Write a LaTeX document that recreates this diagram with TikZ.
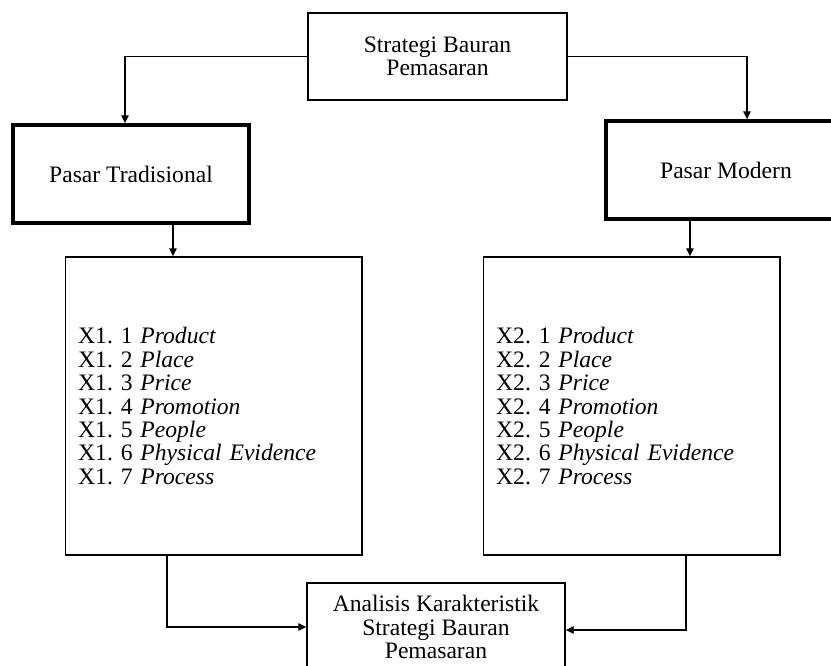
\documentclass[tikz,border=0pt]{standalone}
\usepackage{fontspec}
\setmainfont{Liberation Serif}
\usetikzlibrary{arrows.meta}
\tikzset{>={Triangle[length=6pt,width=5.5pt]}}
\frenchspacing

\begin{document}
\begin{tikzpicture}[x=0.75pt,y=-0.75pt,
  box/.style={draw,line width=1pt,inner sep=0pt,align=center,font=\fontsize{17.7}{17.6}\selectfont},
  boldbox/.style={box,line width=2.5pt},
  listbox/.style={box,align=left,inner xsep=9.75pt,text width=203pt,minimum height=223.5pt},
  link/.style={->,line width=1pt}]
\path[use as bounding box,clip] (0,0) rectangle (831,666);
\node[box,minimum width=194.25pt,minimum height=65.25pt] (strategi) at (437.5,56.5) {Strategi Bauran\\Pemasaran};
\node[boldbox,minimum width=177pt,minimum height=73.5pt] (trad) at (131,174) {Pasar Tradisional};
\node[boldbox,minimum width=180pt,minimum height=73.5pt] (modern) at (726,170) {Pasar Modern};
\node[listbox] (list1) at (213.5,406) {X1. 1 \textit{Product}\\X1. 2 \textit{Place}\\X1. 3 \textit{Price}\\X1. 4 \textit{Promotion}\\X1. 5 \textit{People}\\X1. 6 \textit{Physical Evidence}\\X1. 7 \textit{Process}};
\node[listbox] (list2) at (631.5,406) {X2. 1 \textit{Product}\\X2. 2 \textit{Place}\\X2. 3 \textit{Price}\\X2. 4 \textit{Promotion}\\X2. 5 \textit{People}\\X2. 6 \textit{Physical Evidence}\\X2. 7 \textit{Process}};
\node[box,minimum width=193.5pt,minimum height=66pt] (analisis) at (436,627) {Analisis Karakteristik\\Strategi Bauran\\Pemasaran};
\draw[link] (strategi.west) -| ([xshift=-4.5pt]trad.north);
\draw[link] (strategi.east) -| ([xshift=15.75pt]modern.north);
\draw[link] ([xshift=31.5pt]trad.south) -- ([xshift=31.5pt]trad.south |- list1.north);
\draw[link] ([xshift=-27pt]modern.south) -- ([xshift=-27pt]modern.south |- list2.north);
\draw[link] ([xshift=-34.9pt]list1.south) |- (analisis.west);
\draw[link] ([xshift=40.9pt]list2.south) |- ([yshift=-2.25pt]analisis.east);
\end{tikzpicture}
\end{document}
